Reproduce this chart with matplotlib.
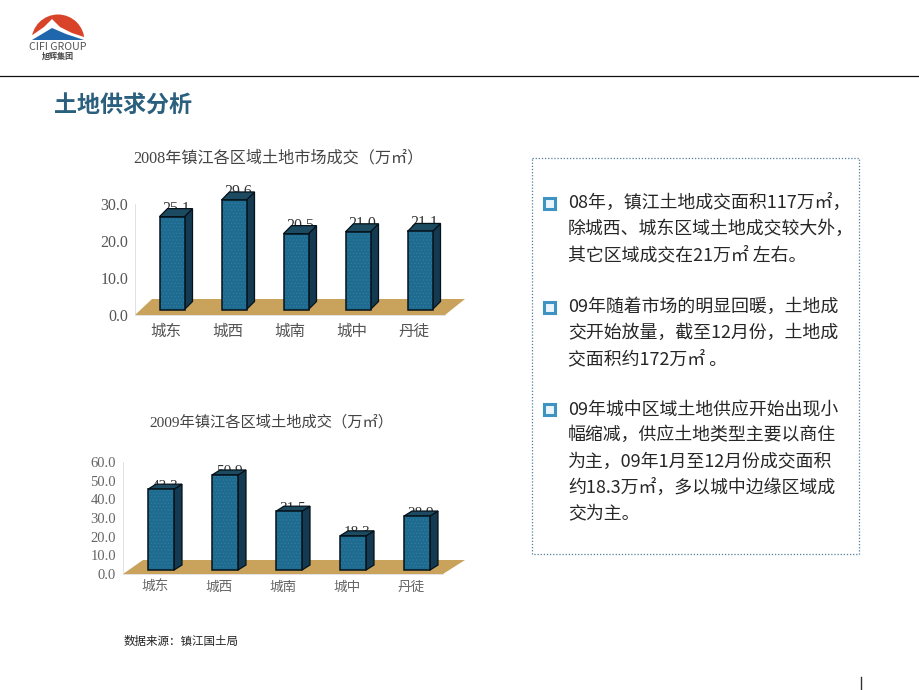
import matplotlib
matplotlib.use("Agg")
import matplotlib.pyplot as plt
from matplotlib.patches import Polygon, Rectangle, Wedge

SANS = ['Noto Sans CJK SC', 'DejaVu Sans']
SERIF = ['Liberation Serif', 'Noto Sans CJK SC', 'DejaVu Sans']
W, H = 920, 690

categories = ['城东', '城西', '城南', '城中', '丹徒']
values_2008 = [25.1, 29.6, 20.5, 21.0, 21.1]
values_2009 = [43.3, 50.9, 31.5, 18.3, 28.9]
yticks_2008 = [0, 10, 20, 30]
yticks_2009 = [0, 10, 20, 30, 40, 50, 60]
title_2008 = '2008年镇江各区域土地市场成交（万㎡）'
title_2009 = '2009年镇江各区域土地成交（万㎡）'
page_title = '土地供求分析'
source_text = '数据来源：镇江国土局'
para_1 = ['08年，镇江土地成交面积117万㎡，', '除城西、城东区域土地成交较大外，', '其它区域成交在21万㎡ 左右。']
para_2 = ['09年随着市场的明显回暖，土地成', '交开始放量，截至12月份，土地成', '交面积约172万㎡ 。']
para_3 = ['09年城中区域土地供应开始出现小', '幅缩减，供应土地类型主要以商住', '为主，09年1月至12月份成交面积', '约18.3万㎡，多以城中边缘区域成', '交为主。']

FRONT, SIDE, TOP, FLOOR = '#1f6b90', '#143a52', '#1c4a60', '#c9a35c'
plt.rcParams['hatch.linewidth'] = 0.4

fig = plt.figure(figsize=(9.2, 6.9), dpi=100, facecolor='white')
bg = fig.add_axes([0, 0, 1, 1])
bg.set_xlim(0, W); bg.set_ylim(H, 0); bg.axis('off')

# header
bg.plot([0, 920], [76, 76], color='#111111', lw=0.9)
bg.add_patch(Wedge((58, 41), 26.5, 180, 360, fc='#d9432a', ec='none'))
bg.add_patch(Polygon([(28, 42), (31, 36), (44, 27), (52, 19), (60, 27), (72, 33), (87, 38), (88, 42)], fc='white', ec='none'))
bg.add_patch(Polygon([(32, 40), (52, 28), (66, 34), (84, 40)], fc='#1f66ad', ec='none'))
bg.text(57.5, 47.5, 'CIFI GROUP', family=SANS, fontsize=7.6, color='#555555', ha='center', va='center')
bg.text(58, 56.5, '旭辉集团', family=SANS, fontsize=5.8, color='#444444', ha='center', va='center', fontweight='bold')
bg.text(54, 106.5, page_title, family=SANS, fontsize=16.6, color='#2b5f7e', fontweight='bold', ha='left', va='center')
bg.text(124, 642, source_text, family=SERIF, fontsize=8.3, color='#222222', ha='left', va='center')
bg.plot([861, 861], [677, 690], color='#333333', lw=1)

# text panel
bg.add_patch(Rectangle((532, 158), 327, 396, fc='white', ec='#4f7f96', lw=0.9, ls=(0, (1, 1.5))))
for y0, para in ((203, para_1), (307, para_2), (409, para_3)):
    bg.add_patch(Rectangle((544, y0 - 5.5), 11, 11, fc='#eaf6fb', ec='#3f93c2', lw=2.2))
    for i, line in enumerate(para):
        bg.text(568, y0 + i * 26.3, line, family=SANS, fontsize=12.9, color='#262626', ha='left', va='center')


def chart(x0, x1, y0, ytop, ymax, values, yticks, title, title_xy, fs, depth, lift, bw, base, floor_h, floor_l, floor_r,
          cat_fs, tick_fs, lab_fs, lab_off, pad_x, tcol):
    ax = fig.add_axes([x0 / W, 1 - y0 / H, (x1 - x0) / W, (y0 - ytop) / H], facecolor='none')
    ax.set_xlim(-0.5, 4.5); ax.set_ylim(0, ymax)
    px_x = (x1 - x0) / 5
    px_y = (y0 - ytop) / ymax
    dx, dy, b = depth / px_x, lift / px_y, base / px_y
    fh = floor_h / px_y
    ax.add_patch(Polygon([(-0.5, 0), (4.5, 0), (4.5 + floor_r / px_x, fh), (-0.5 + floor_l / px_x, fh)],
                         fc=FLOOR, ec='none', zorder=1, clip_on=False))
    xs = [i + 6 / px_x for i in range(len(values))]
    w = bw / px_x
    for x, v in zip(xs, values):
        l, r = x - w / 2, x + w / 2
        t = v + b
        ax.text(x + dx / 2, t + dy + lab_off / px_y, f'{v:.1f}', family=SERIF, fontsize=lab_fs, color='#333333',
                ha='center', va='center', zorder=2)
        ax.add_patch(Polygon([(r, b), (r + dx, b + dy), (r + dx, t + dy), (r, t)], fc=SIDE, ec='#06121a', lw=0.9, zorder=3, clip_on=False))
        ax.add_patch(Polygon([(l, t), (r, t), (r + dx, t + dy), (l + dx, t + dy)], fc=TOP, ec='#06121a', lw=0.9, zorder=3, clip_on=False))
    ax.bar(xs, values, width=w, bottom=b, color=FRONT, edgecolor='#2f80a6', hatch='.....', lw=0, zorder=4, clip_on=False)
    ax.bar(xs, values, width=w, bottom=b, color='none', edgecolor='#06121a', lw=1.1, zorder=5, clip_on=False)
    for s in ('top', 'right'):
        ax.spines[s].set_visible(False)
    for s in ('left', 'bottom'):
        ax.spines[s].set_color('#dddddd'); ax.spines[s].set_linewidth(0.6)
    ax.set_yticks(yticks, [f'{t:.1f}' for t in yticks], family=SERIF, fontsize=tick_fs, color=tcol)
    ax.set_xticks(range(len(values)), categories, family=SERIF, fontsize=cat_fs, color=tcol)
    ax.tick_params(axis='y', length=0, pad=5)
    ax.tick_params(axis='x', length=0, pad=pad_x)
    bg.text(title_xy[0], title_xy[1], title, family=SERIF, fontsize=fs, color='#444444', ha='center', va='center')


chart(135, 445, 315, 204, 30, values_2008, yticks_2008, title_2008, (278, 158), 11.6, 8, 8, 25, 5.5, 16, 17, 20,
      11.2, 11.5, 11.5, 0, 6.5, '#555555')
chart(123, 443, 574, 462, 60, values_2009, yticks_2009, title_2009, (271, 422), 11.0, 8, 5, 26, 4, 14, 20, 22,
      9.8, 10.5, 11, -2, 5, '#666666')

fig.savefig('out.png', dpi=100, facecolor='white')
